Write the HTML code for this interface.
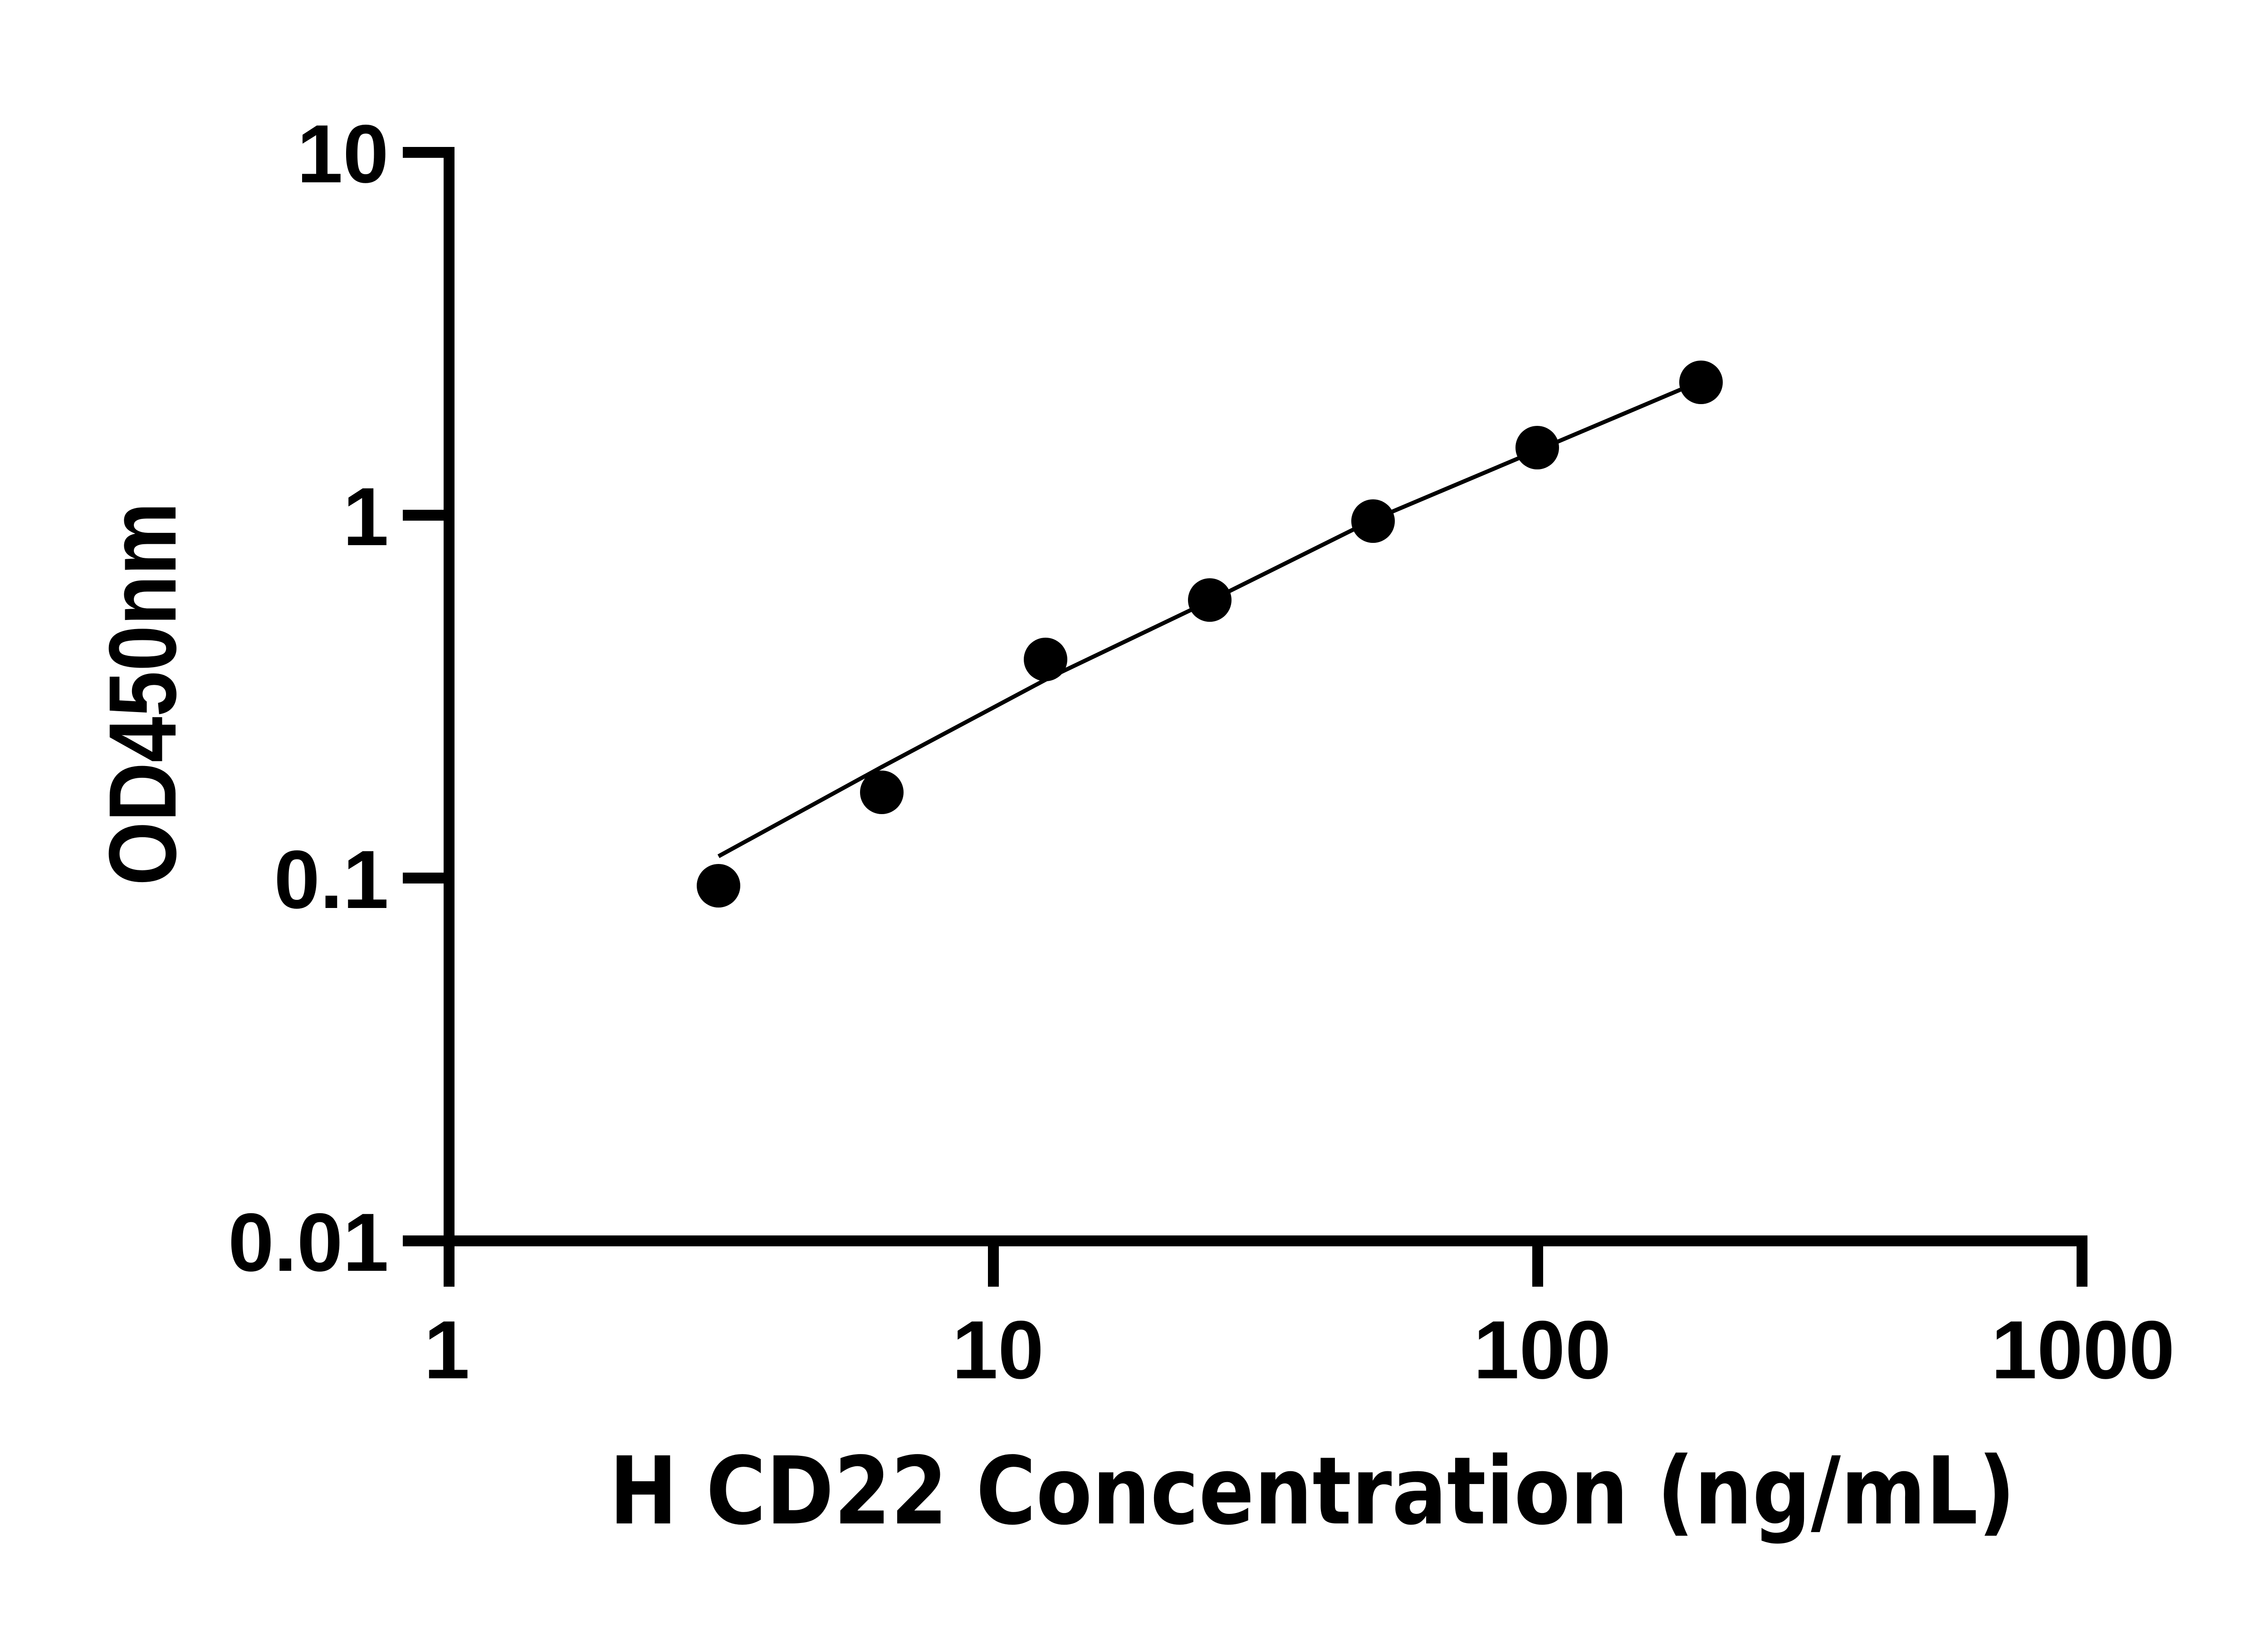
<!DOCTYPE html>
<html><head><meta charset="utf-8"><style>html,body{margin:0;padding:0;background:#fff}</style></head>
<body>
<svg width="5142" height="3600" viewBox="0 0 5142 3600" xmlns="http://www.w3.org/2000/svg">
<rect width="5142" height="3600" fill="#fff"/>
<g stroke="#000" stroke-width="24" fill="none">
<line x1="990" y1="324" x2="990" y2="2748"/>
<line x1="888" y1="2736" x2="4602" y2="2736"/>
<line x1="888" y1="336" x2="1002" y2="336"/>
<line x1="888" y1="1136" x2="1002" y2="1136"/>
<line x1="888" y1="1936" x2="1002" y2="1936"/>
<line x1="990" y1="2736" x2="990" y2="2837"/>
<line x1="2190" y1="2736" x2="2190" y2="2837"/>
<line x1="3390" y1="2736" x2="3390" y2="2837"/>
<line x1="4590" y1="2736" x2="4590" y2="2837"/>
</g>
<g font-family="Liberation Sans, Arial, sans-serif" font-weight="bold" font-size="182" fill="#000">
<text x="857" y="402" text-anchor="end">10</text>
<text x="857" y="1202" text-anchor="end">1</text>
<text x="857" y="2002" text-anchor="end">0.1</text>
<text x="857" y="2802" text-anchor="end">0.01</text>
<text x="985" y="3039" text-anchor="middle">1</text>
<text x="2200" y="3039" text-anchor="middle">10</text>
<text x="3400" y="3039" text-anchor="middle">100</text>
<text x="4592" y="3039" text-anchor="middle">1000</text>
</g>
<text x="2893" y="3359" text-anchor="middle" font-family="DejaVu Sans, sans-serif" font-weight="bold" font-size="206" textLength="3100" lengthAdjust="spacingAndGlyphs">H CD22 Concentration (ng/mL)</text>
<text transform="translate(387,1530) rotate(-90)" text-anchor="middle" font-family="Liberation Sans, Arial, sans-serif" font-weight="bold" font-size="211" textLength="845" lengthAdjust="spacingAndGlyphs">OD450nm</text>
<polyline points="1584,1888 1944,1691 2312,1495 2667,1325 3027,1146 3389,993 3705,859" fill="none" stroke="#000" stroke-width="9"/>
<g fill="#000">
<circle cx="1584" cy="1953" r="48"/>
<circle cx="1944" cy="1747" r="48"/>
<circle cx="2305" cy="1454" r="48"/>
<circle cx="2667" cy="1323" r="48"/>
<circle cx="3027" cy="1149" r="48"/>
<circle cx="3389" cy="987" r="48"/>
<circle cx="3750" cy="843" r="48"/>
</g>
</svg>
</body></html>
